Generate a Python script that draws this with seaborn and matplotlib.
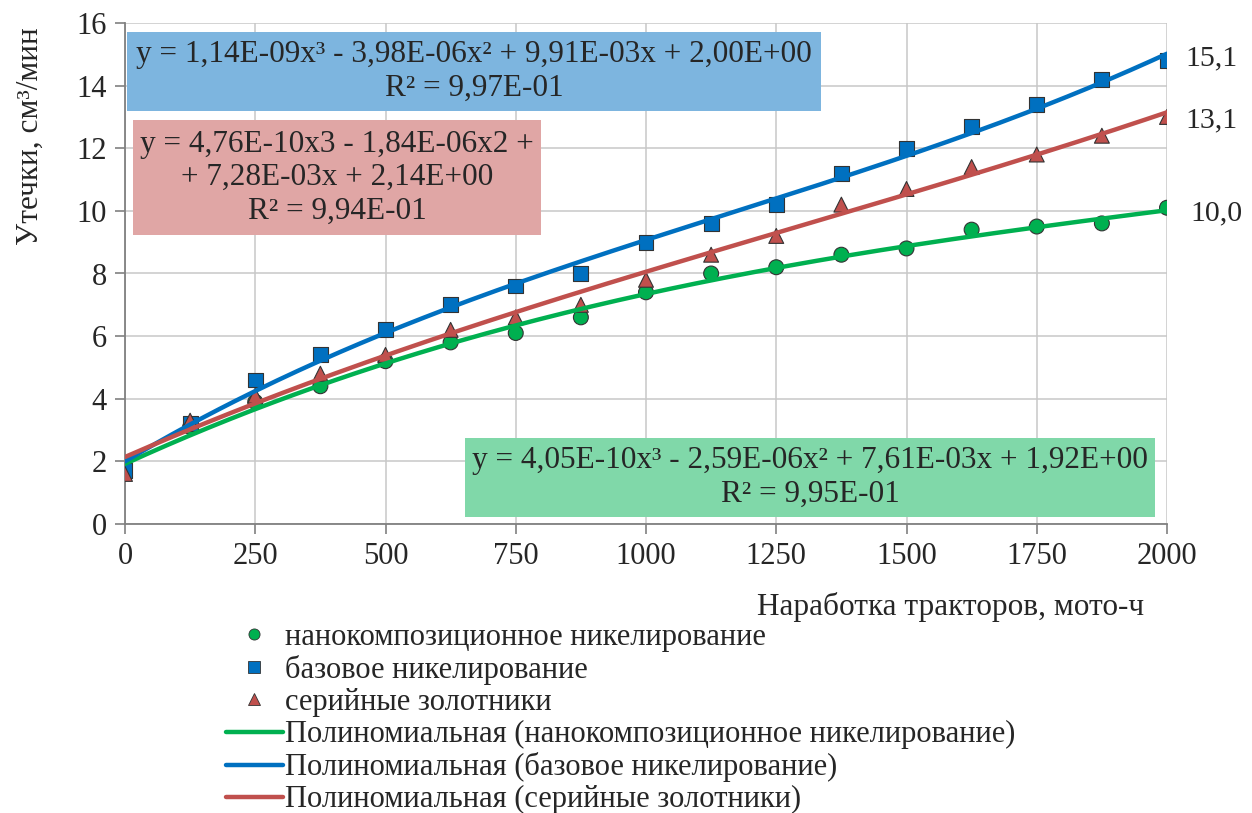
import numpy as np
import pandas as pd
import matplotlib
matplotlib.use("Agg")
import matplotlib.pyplot as plt
import seaborn as sns
from matplotlib.lines import Line2D

# ---- data ----
hours = [0, 125, 250, 375, 500, 625, 750, 875, 1000, 1125, 1250, 1375, 1500, 1625, 1750, 1875, 2000]
nano = [1.7, 3.1, 3.9, 4.4, 5.2, 5.8, 6.1, 6.6, 7.4, 8.0, 8.2, 8.6, 8.8, 9.4, 9.5, 9.6, 10.1]
base = [1.7, 3.2, 4.6, 5.4, 6.2, 7.0, 7.6, 8.0, 9.0, 9.6, 10.2, 11.2, 12.0, 12.7, 13.4, 14.2, 14.8]
serial = [1.6, 3.3, 4.1, 4.8, 5.4, 6.2, 6.6, 7.0, 7.8, 8.6, 9.2, 10.2, 10.7, 11.4, 11.8, 12.4, 13.0]

coef_nano = [4.05e-10, -2.59e-06, 7.61e-03, 1.92]
coef_base = [1.14e-09, -3.98e-06, 9.91e-03, 2.00]
coef_serial = [4.76e-10, -1.84e-06, 7.28e-03, 2.14]

series_names = ["нанокомпозиционное никелирование", "базовое никелирование", "серийные золотники"]
end_labels = ["10,0", "15,1", "13,1"]
eq_texts = [
    "y = 4,05E-10x³ - 2,59E-06x² + 7,61E-03x + 1,92E+00\nR² = 9,95E-01",
    "y = 1,14E-09x³ - 3,98E-06x² + 9,91E-03x + 2,00E+00\nR² = 9,97E-01",
    "y = 4,76E-10x3 - 1,84E-06x2 +\n+ 7,28E-03x + 2,14E+00\nR² = 9,94E-01",
]
x_ticks = [0, 250, 500, 750, 1000, 1250, 1500, 1750, 2000]
y_ticks = [0, 2, 4, 6, 8, 10, 12, 14, 16]

# ---- style ----
sns.set_theme(style="white")
plt.rcParams["font.family"] = ["Liberation Serif", "DejaVu Serif"]

colors = ["#00B050", "#0070C0", "#C0504D"]
markers = ["o", "s", "^"]
box_colors = ["#80D8A9", "#7DB5DF", "#E0A6A5"]
FS = 22.5

W, H = 1252, 813
L, R, T, B = 125, 1167, 23, 524
fig = plt.figure(figsize=(W / 100, H / 100), dpi=100)
ax = fig.add_axes([L / W, 1 - B / H, (R - L) / W, (B - T) / H])

pts = pd.DataFrame({
    "x": hours * 3,
    "y": nano + base + serial,
    "s": sum([[n] * len(hours) for n in series_names], []),
})
xs = np.linspace(0, 2000, 200)
trend_names = ["Полиномиальная (" + n + ")" for n in series_names]
trend = pd.DataFrame({
    "x": np.concatenate([xs, xs, xs]),
    "y": np.concatenate([np.polyval(coef_nano, xs), np.polyval(coef_base, xs), np.polyval(coef_serial, xs)]),
    "s": sum([[n] * len(xs) for n in trend_names], []),
})

pal_pts = dict(zip(series_names, colors))
pal_lines = dict(zip(trend_names, colors))
mk = dict(zip(series_names, markers))

sns.scatterplot(data=pts, x="x", y="y", hue="s", style="s", palette=pal_pts, markers=mk,
                s=115, edgecolor="#333333", linewidth=0.8, ax=ax, legend=False, zorder=3)
sns.lineplot(data=trend, x="x", y="y", hue="s", palette=pal_lines, linewidth=3.2,
             ax=ax, legend=False, zorder=4)

ax.set_xlim(0, 2000)
ax.set_ylim(0, 16)
ax.set_xticks(x_ticks)
ax.set_yticks(y_ticks)
ax.tick_params(axis="both", labelsize=22, length=7, width=1.2, color="#808080", direction="out",
               left=True, bottom=True, pad=6)
ax.grid(True, color="#C8C8C8", linewidth=1.1)
for side in ["top", "right"]:
    ax.spines[side].set_visible(False)
for side in ["left", "bottom"]:
    ax.spines[side].set_color("#808080")
    ax.spines[side].set_linewidth(1.3)
ax.set_xlabel("")
ax.set_ylabel("")

fig.text(30 / W, 1 - 136 / H, "Утечки, см³/мин", fontsize=FS, rotation=90,
         ha="center", va="center")
fig.text(951 / W, 1 - 607 / H, "Наработка тракторов, мото-ч", fontsize=FS,
         ha="center", va="center")

# end labels
end_y = [9.93, 14.88, 12.88]
end_dx = [17, 13, 13]
for lab, yv, dx in zip(end_labels, end_y, end_dx):
    ax.annotate(lab, xy=(2000, yv), xytext=(dx, 0), textcoords="offset points",
                fontsize=21.5, ha="left", va="center", annotation_clip=False)

# equation boxes
def px_to_data(px, py):
    return (px - L) / (R - L) * 2000, (B - py) / (B - T) * 16

def box(x0, y0, x1, y1, color, text):
    X0, Y0 = px_to_data(x0, y1)
    X1, Y1 = px_to_data(x1, y0)
    ax.add_patch(plt.Rectangle((X0, Y0), X1 - X0, Y1 - Y0, facecolor=color, edgecolor="none",
                               zorder=1, clip_on=False))
    ax.text((X0 + X1) / 2, (Y0 + Y1) / 2, text, fontsize=FS, ha="center", va="center",
            linespacing=1.2, zorder=6, clip_on=False)

box(127, 32, 821, 111, box_colors[1], eq_texts[1])
box(133, 120, 541, 235, box_colors[2], eq_texts[2])
box(465, 438, 1155, 517, box_colors[0], eq_texts[0])

# legend
handles, labels = [], []
for n, c, m in zip(series_names, colors, markers):
    handles.append(Line2D([], [], linestyle="none", marker=m, markersize=8, markerfacecolor=c,
                          markeredgecolor="#333333", markeredgewidth=0.6))
    labels.append(n)
for n, c in zip(trend_names, colors):
    handles.append(Line2D([], [], color=c, linewidth=3.2))
    labels.append(n)
fig.legend(handles, labels, loc="upper left", bbox_to_anchor=(226 / W, 1 - 623 / H), frameon=False,
           fontsize=22, labelspacing=0.1, handlelength=1.85, handletextpad=0.08,
           borderaxespad=0, borderpad=0)

fig.savefig("out.png", dpi=100)
